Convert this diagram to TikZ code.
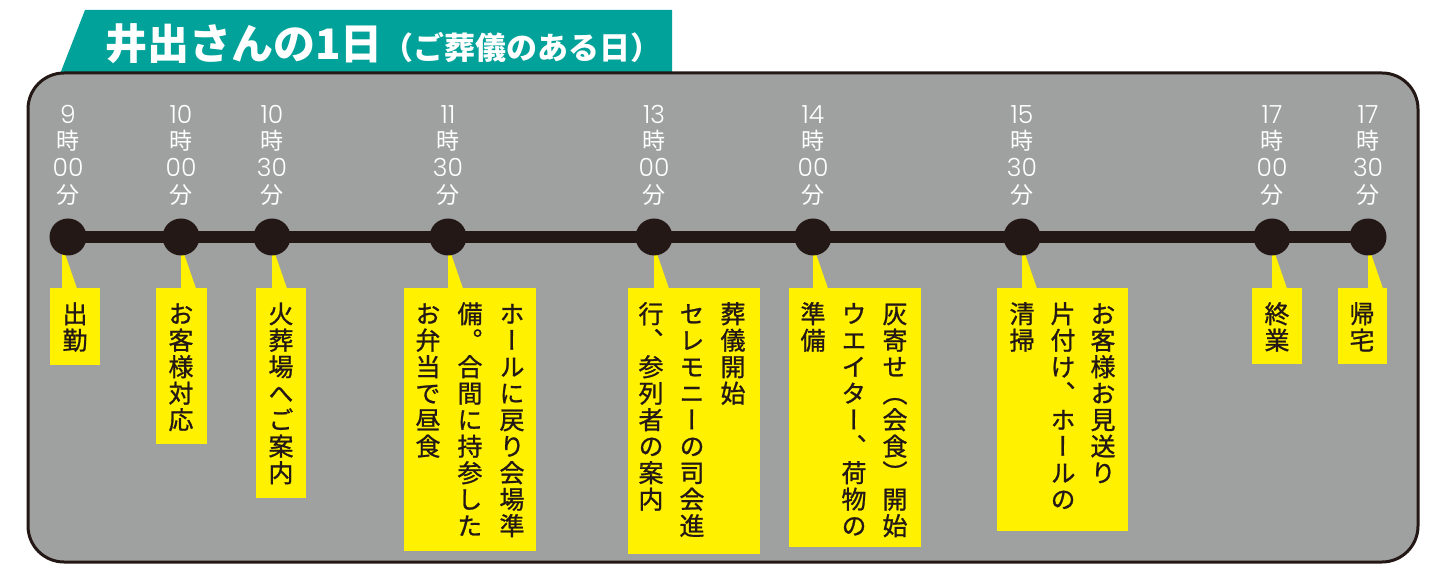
\documentclass[tikz,border=0pt]{standalone}
\usepackage{fontspec}
\usetikzlibrary{calc}
\setmainfont{Noto Sans CJK JP}
\newfontfamily\jp{Noto Sans CJK JP}
\newfontfamily\vjp[RawFeature=+vert, FakeBold=1]{Noto Sans CJK JP}
\newfontfamily\tdig{Poppins Light}
\definecolor{panelgray}{HTML}{9FA0A0}
\definecolor{inkdark}{HTML}{231815}
\definecolor{tabteal}{HTML}{00A29A}
\definecolor{boxyellow}{HTML}{FFF100}
\newcommand\vcell[1]{\hbox to 1em{\hss\vrule height 22pt depth 4.5pt width 0pt\relax#1\hss}}
\newcommand\trow[1]{\hbox to 2em{\hss\vrule height 20pt depth 6.7pt width 0pt\relax#1\hss}}
\newcommand\tlabel[2]{\vbox{\offinterlineskip\trow{\tdig\fontsize{25}{25}\selectfont #1}\trow{時}\trow{\tdig\fontsize{25}{25}\selectfont #2}\trow{分}}}
\ExplSyntaxOn
\NewDocumentCommand\vcol{m}{\vbox{\offinterlineskip\tl_map_function:nN {#1} \vcell}}
\ExplSyntaxOff
\tikzset{
  dot/.style={circle, fill=inkdark, minimum size=37pt, inner sep=0pt},
  tline/.style={draw=inkdark, line width=12pt},
  tlab/.style={anchor=north, inner sep=0pt, text=white, font=\jp\fontsize{23}{26.7}\selectfont},
  ybox/.style={fill=boxyellow, anchor=north west, inner sep=0pt},
  ptr/.style={fill=boxyellow},
  col/.style={anchor=north, inner sep=0pt, text=inkdark, font=\vjp\fontsize{25}{26.5}\selectfont},
}
\begin{document}
\begin{tikzpicture}[x=1pt,y=-1pt]
\useasboundingbox (0,0) rectangle (1446,577);
% title tab
\fill[tabteal] (60,74) -- (85,10) -- (672,10) -- (672,74) -- cycle;
\node[anchor=base west, inner sep=0pt, text=white] (title) at (105,60)
  {\bfseries\fontsize{42}{42}\selectfont 井出さんの1日\fontsize{31}{31}\selectfont（ご葬儀のある日）};
% panel
\draw[draw=inkdark, line width=3pt, fill=panelgray, rounded corners=36pt] (28,73) rectangle (1418,562);
% boxes
\node[ybox, minimum width=50pt, minimum height=77pt] (b1) at (50,288) {};
\node[ybox, minimum width=51pt, minimum height=156pt] (b2) at (156,288) {};
\node[ybox, minimum width=50pt, minimum height=210pt] (b3) at (256,288) {};
\node[ybox, minimum width=132pt, minimum height=263pt] (b4) at (404,288) {};
\node[ybox, minimum width=132pt, minimum height=266pt] (b5) at (628,288) {};
\node[ybox, minimum width=132pt, minimum height=259pt] (b6) at (789,288) {};
\node[ybox, minimum width=131pt, minimum height=243pt] (b7) at (997,288) {};
\node[ybox, minimum width=50pt, minimum height=76pt] (b8) at (1252,288) {};
\node[ybox, minimum width=49pt, minimum height=76pt] (b9) at (1338,288) {};
% dot anchors
\coordinate (p1) at (68,237);
\coordinate (p2) at (181,237);
\coordinate (p3) at (272,237);
\coordinate (p4) at (448,237);
\coordinate (p5) at (654,237);
\coordinate (p6) at (813,237);
\coordinate (p7) at (1022,237);
\coordinate (p8) at (1272,237);
\coordinate (p9) at (1368,237);
% pointers from dots to boxes
\foreach \i/\o in {1/-6,2/0,3/0,4/0,5/0,6/0,7/0,8/0,9/0}{
  \fill[ptr] ($(p\i)+(\o,8)$) -- ($(p\i |- b\i.north)+(\o,2)$) -- ($(p\i |- b\i.north)+(\o+15.5,2)$) -- cycle;
}
% timeline
\draw[tline] (p1) -- (p9);
\foreach \i in {1,...,9}{ \node[dot] (d\i) at (p\i) {}; }
% time labels
\node[tlab] (t1) at (68,103) {\tlabel{9}{00}};
\node[tlab] (t2) at (181,103) {\tlabel{10}{00}};
\node[tlab] (t3) at (272,103) {\tlabel{10}{30}};
\node[tlab] (t4) at (448,103) {\tlabel{11}{30}};
\node[tlab] (t5) at (654,103) {\tlabel{13}{00}};
\node[tlab] (t6) at (813,103) {\tlabel{14}{00}};
\node[tlab] (t7) at (1022,103) {\tlabel{15}{30}};
\node[tlab] (t8) at (1272,103) {\tlabel{17}{00}};
\node[tlab] (t9) at (1368,103) {\tlabel{17}{30}};
% box texts (vertical columns, right to left)
\node[col] (c11) at (75,301) {\vcol{出勤}};
\node[col] (c21) at (181,301) {\vcol{お客様対応}};
\node[col] (c31) at (281,301) {\vcol{火葬場へご案内}};
\node[col] (c41) at (512,301) {\vcol{ホールに戻り会場準}};
\node[col] (c42) at (470,301) {\vcol{備。合間に持参した}};
\node[col] (c43) at (428,301) {\vcol{お弁当で昼食}};
\node[col] (c51) at (733,301) {\vcol{葬儀開始}};
\node[col] (c52) at (692,301) {\vcol{セレモニーの司会進}};
\node[col] (c53) at (651,301) {\vcol{行、参列者の案内}};
\node[col] (c61) at (895,301) {\vcol{灰寄せ（会食）開始}};
\node[col] (c62) at (854,301) {\vcol{ウエイター、荷物の}};
\node[col] (c63) at (813,301) {\vcol{準備}};
\node[col] (c71) at (1103,301) {\vcol{お客様お見送り}};
\node[col] (c72) at (1063,301) {\vcol{片付け、ホールの}};
\node[col] (c73) at (1022,301) {\vcol{清掃}};
\node[col] (c81) at (1277,301) {\vcol{終業}};
\node[col] (c91) at (1362,301) {\vcol{帰宅}};
\end{tikzpicture}
\end{document}
